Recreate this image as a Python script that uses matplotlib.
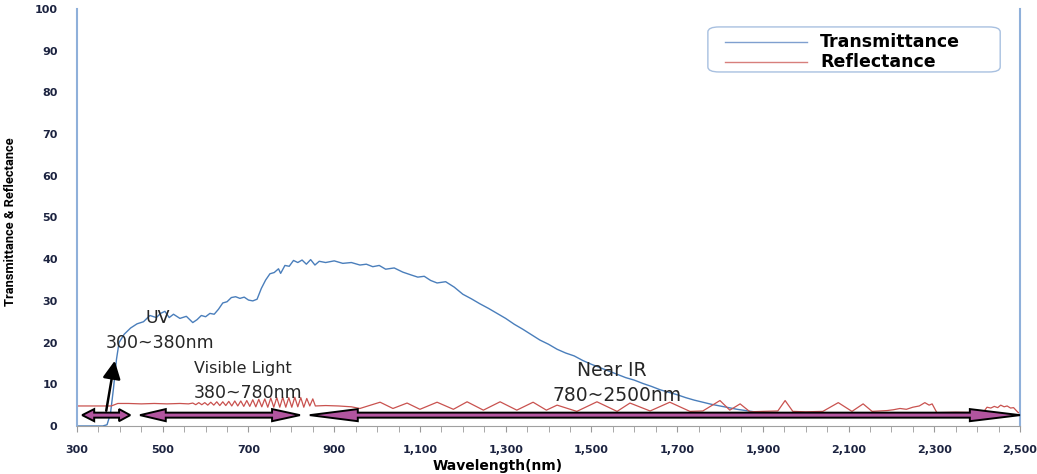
import matplotlib.pyplot as plt
from matplotlib.patches import Polygon, FancyBboxPatch
from matplotlib.lines import Line2D

# transmittance curve (wavelength nm, %)
trans_wl = [300, 360, 370, 378, 385, 392, 398, 410, 425, 440, 455, 470, 485, 495, 505,
            515, 525, 540, 555, 570, 580, 590, 600, 610, 620, 630, 640, 650, 660, 670,
            680, 690, 700, 710, 720, 730, 740, 750, 760, 770, 775, 785, 795, 805, 815,
            825, 835, 845, 855, 865, 880, 900, 920, 940, 960, 975, 990, 1005, 1020, 1040,
            1060, 1080, 1095, 1110, 1125, 1140, 1160, 1180, 1200, 1220, 1240, 1260, 1280,
            1300, 1320, 1340, 1360, 1380, 1400, 1420, 1440, 1460, 1480, 1500, 1520, 1540,
            1560, 1580, 1600, 1620, 1640, 1660, 1680, 1700, 1720, 1740, 1760, 1780, 1800,
            1820, 1840, 1860, 1880, 1900, 1950, 2000, 2100, 2200, 2300, 2400, 2500]
trans_val = [0.0, 0.0, 0.3, 3.0, 9.0, 16.0, 20.0, 22.0, 23.5, 24.5, 25.0, 26.5, 26.0, 27.0, 27.5,
             26.0, 26.8, 25.8, 26.3, 24.8, 25.5, 26.5, 26.2, 27.0, 26.8, 28.0, 29.5, 29.8, 30.8, 31.0,
             30.6, 30.9, 30.2, 30.0, 30.4, 33.0, 35.0, 36.5, 36.8, 37.7, 36.6, 38.5, 38.3, 39.7, 39.2,
             39.8, 38.8, 39.9, 38.6, 39.5, 39.2, 39.6, 39.0, 39.2, 38.6, 38.8, 38.2, 38.5, 37.6, 37.9,
             36.9, 36.2, 35.7, 35.9, 34.9, 34.3, 34.6, 33.3, 31.6, 30.5, 29.3, 28.2, 27.0,
             25.8, 24.4, 23.2, 21.9, 20.6, 19.6, 18.4, 17.5, 16.8, 15.7, 14.8, 14.0, 13.2,
             12.4, 11.6, 11.0, 10.2, 9.5, 8.7, 8.1, 7.5, 6.8, 6.2, 5.7, 5.2, 4.8,
             4.4, 4.0, 3.7, 3.4, 3.1, 2.9, 2.8, 2.7, 2.7, 2.6, 2.6, 2.6]

# reflectance curve (wavelength nm, %)
refl_wl = [300, 380, 385, 395, 420, 450, 480, 510, 540, 560,
           570, 577, 584, 591, 598, 605, 612, 619, 626, 633, 640, 647, 654, 661, 668, 675,
           682, 689, 696, 703, 710, 717, 724, 731, 738, 745, 752, 759, 766, 773, 780, 787,
           794, 801, 808, 815, 822, 829, 836, 843, 850, 856,
           880, 910, 940, 960, 985, 1007, 1037, 1070, 1100, 1140, 1178, 1210, 1248, 1287,
           1326, 1364, 1395, 1420, 1466, 1513, 1560, 1590, 1637, 1683, 1730, 1760, 1800,
           1823, 1847, 1870, 1900, 1935, 1952, 1970, 2000, 2040, 2076, 2108, 2134, 2155,
           2190, 2205, 2220, 2235, 2250, 2265, 2278, 2288, 2295, 2306, 2350, 2414, 2423,
           2432, 2440, 2448, 2455, 2463, 2470, 2478, 2485, 2495, 2500]
refl_val = [4.8, 4.8, 5.0, 5.4, 5.4, 5.3, 5.4, 5.3, 5.4, 5.3,
            5.5, 5.1, 5.6, 5.1, 5.6, 5.0, 5.7, 5.0, 5.8, 4.9, 5.8, 4.9, 5.9, 4.8, 6.0, 4.8,
            6.0, 4.7, 6.1, 4.7, 6.3, 4.6, 6.4, 4.6, 6.5, 4.5, 6.7, 4.5, 6.8, 4.5, 6.9, 4.5,
            6.8, 4.5, 6.9, 4.6, 6.8, 4.5, 6.6, 4.8, 6.5, 4.8,
            4.9, 4.8, 4.6, 4.2, 5.0, 5.7, 4.2, 5.5, 4.0, 5.7, 4.0, 5.8, 3.8, 5.8,
            3.8, 5.7, 3.8, 5.0, 3.5, 5.8, 3.5, 5.5, 3.6, 5.7, 3.5, 3.6, 6.1,
            3.8, 5.3, 3.4, 3.5, 3.6, 6.1, 3.5, 3.4, 3.5, 5.6, 3.5, 5.3, 3.5,
            3.7, 3.9, 4.2, 4.0, 4.5, 4.8, 5.6, 5.0, 5.3, 3.2, 3.3, 3.2, 4.5,
            4.3, 4.7, 4.4, 5.0, 4.6, 4.8, 4.3, 4.4, 3.3, 3.0]

# spectral regions drawn as double arrows: (start, end, head length left, head length right)
regions = [(312, 424, 28, 26), (447, 820, 60, 65), (843, 2500, 112, 117)]

x_ticks = list(range(300, 2501, 200))
y_ticks = list(range(0, 101, 10))

blue = '#4a7ebb'
red = '#c9524f'
navy = '#1c2340'

fig = plt.figure(figsize=(10.37, 4.74), dpi=100)
ax = fig.add_axes([0.0743, 0.1013, 0.9093, 0.8797])

ax.plot(trans_wl, trans_val, color=blue, lw=1.0, label='Transmittance')
ax.plot(refl_wl, refl_val, color=red, lw=0.9, label='Reflectance')

ax.set_xlim(300, 2500)
ax.set_ylim(0, 100)
ax.set_xticks(x_ticks)
ax.set_xticklabels([f'{t:,}' for t in x_ticks])
ax.set_xticks(range(300, 2501, 50), minor=True)
ax.set_yticks(y_ticks)
ax.tick_params(axis='x', colors='#9a9a9a', length=4, labelcolor=navy, labelsize=8, pad=10)
ax.tick_params(axis='x', which='minor', colors='#9a9a9a', length=4)
ax.tick_params(axis='y', length=0, labelcolor=navy, labelsize=8, pad=14)
for lab in ax.get_xticklabels() + ax.get_yticklabels():
    lab.set_fontweight('bold')

ax.spines['top'].set_visible(False)
ax.spines['left'].set_color('#8fb0da')
ax.spines['right'].set_color('#8fb0da')
ax.spines['left'].set_linewidth(1.5)
ax.spines['right'].set_linewidth(1.5)
ax.spines['bottom'].set_color('#a0a0a0')

ax.set_xlabel('Wavelength(nm)', fontsize=10, fontweight='bold', va='center')
ax.xaxis.set_label_coords(0.446, -0.097)
ax.set_ylabel('Transmittance & Reflectance', fontsize=9.3, fontweight='bold',
              family=['Roboto', 'DejaVu Sans'])
ax.yaxis.set_label_coords(-0.064, 0.489)

# double arrows for spectral regions
ay, hw, bw = 2.6, 1.45, 0.6
for x0, x1, h0, h1 in regions:
    verts = [(x0, ay), (x0 + h0, ay + hw), (x0 + h0, ay + bw), (x1 - h1, ay + bw),
             (x1 - h1, ay + hw), (x1, ay), (x1 - h1, ay - hw), (x1 - h1, ay - bw),
             (x0 + h0, ay - bw), (x0 + h0, ay - hw)]
    ax.add_patch(Polygon(verts, closed=True, fc='#b2559f', ec='black', lw=1.4,
                         zorder=4, clip_on=False))

# black pointer arrow for UV
ax.annotate('', xy=(389, 16.3), xytext=(367, 3.0),
            arrowprops=dict(arrowstyle='-|>,head_length=0.6,head_width=0.3',
                            color='black', lw=1.8, mutation_scale=18))

txt_kw = dict(fontsize=12.5, color='#262626', va='center', ha='left', zorder=5)
ax.text(459, 25.9, 'UV', **txt_kw)
ax.text(367, 19.9, '300~380nm', **txt_kw)
ax.text(573, 13.9, 'Visible Light', **dict(txt_kw, fontsize=11.5))
ax.text(573, 7.9, '380~780nm', **txt_kw)
ax.text(1466, 13.4, 'Near IR', **dict(txt_kw, fontsize=13.5))
ax.text(1410, 7.2, '780~2500nm', **dict(txt_kw, fontsize=13.5))

# legend drawn like the excel box
box = FancyBboxPatch((0.669, 0.849), 0.31, 0.108, boxstyle='round,pad=0,rounding_size=0.012',
                     transform=ax.transAxes, fc='white', ec='#a8c0e0', lw=1.0, zorder=6)
ax.add_patch(box)
for i, (name, col) in enumerate([('Transmittance', '#7f9fcf'), ('Reflectance', '#d77f7c')]):
    yy = 0.921 - i * 0.048
    ax.add_line(Line2D([0.687, 0.774], [yy, yy], color=col, lw=1.0,
                       transform=ax.transAxes, zorder=7))
    ax.text(0.788, yy, name, transform=ax.transAxes, fontsize=12.5, fontweight='bold',
            va='center', ha='left', zorder=7)

fig.savefig('out.png', dpi=100)
